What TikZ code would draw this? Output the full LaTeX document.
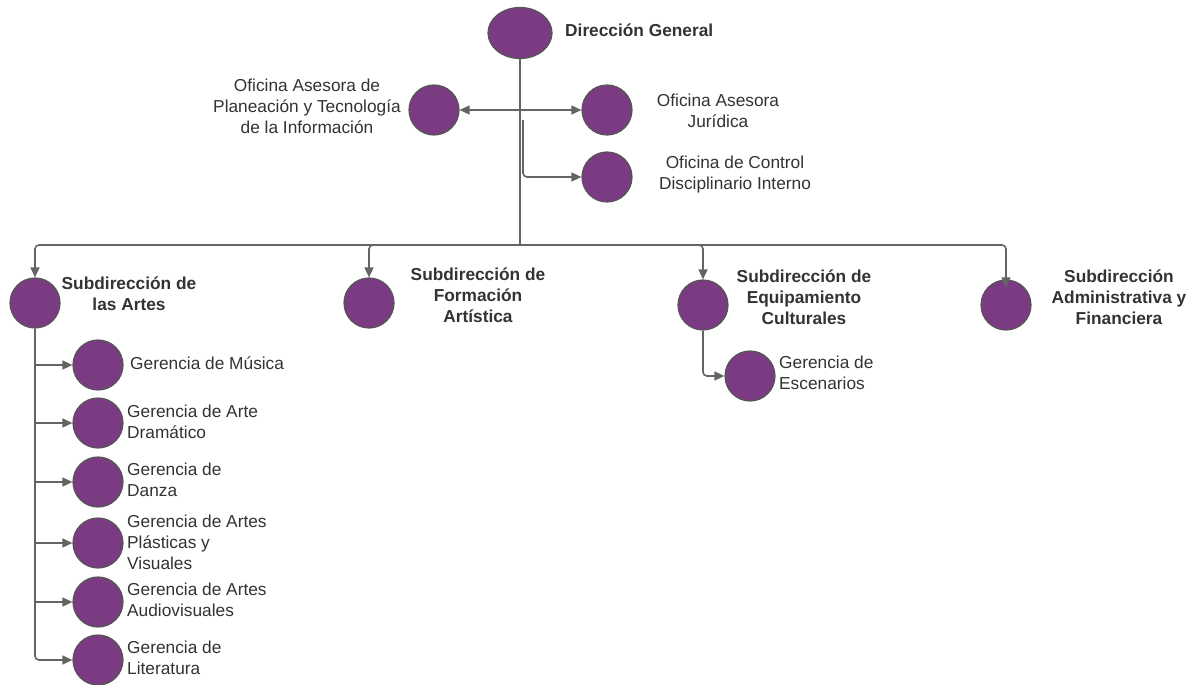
\documentclass[tikz,border=0pt]{standalone}
\usepackage{fontspec}
\setmainfont{Liberation Sans}
\usetikzlibrary{shapes.geometric,arrows.meta}
\definecolor{purp}{HTML}{7B3B83}
\definecolor{ring}{HTML}{555555}
\definecolor{wire}{HTML}{646464}
\definecolor{txt}{HTML}{333333}
\tikzset{
  unit/.style={circle,fill=purp,draw=ring,line width=1.2pt,minimum size=50pt,inner sep=0pt},
  top/.style={ellipse,fill=purp,draw=ring,line width=1.2pt,minimum width=64pt,minimum height=51pt,inner sep=0pt},
  lbl/.style={text=txt,font=\fontsize{17.3}{21}\selectfont,align=center,inner sep=0pt},
  lblb/.style={lbl,font=\fontsize{17.3}{21}\selectfont\bfseries},
  lbll/.style={lbl,align=left,anchor=west},
  conn/.style={draw=wire,line width=1.6pt,rounded corners=4pt},
  arr/.style={conn,-{Triangle[length=10pt,width=9pt]}},
}
\begin{document}
\begin{tikzpicture}[x=1pt,y=-1pt]
\useasboundingbox[fill=white] (0,0) rectangle (1200,685);
% nodes
\node[top] (dg) at (520,33) {};
\node[lblb,anchor=west] (dgt) at (565,30) {Dirección General};
\node[unit] (plan) at (434,110) {};
\node[lbl] (plant) at (307,106) {Oficina Asesora de\\Planeación y Tecnología\\de la Información};
\node[unit] (jur) at (607,110) {};
\node[lbl] (jurt) at (718,111) {Oficina Asesora\\Jurídica};
\node[unit] (ctrl) at (607,177) {};
\node[lbl] (ctrlt) at (735,175) {Oficina de Control\\Disciplinario Interno};
\node[unit] (artes) at (35,303) {};
\node[lblb] (artest) at (129,294) {Subdirección de\\las Artes};
\node[unit] (form) at (369,303) {};
\node[lblb] (formt) at (478,295) {Subdirección de\\Formación\\Artística};
\node[unit] (equip) at (703,305) {};
\node[lblb] (equipt) at (804,297) {Subdirección de\\Equipamiento\\Culturales};
\node[unit] (adm) at (1006,305) {};
\node[lblb] (admt) at (1119,297) {Subdirección\\Administrativa y\\Financiera};
\node[unit] (esc) at (750,376) {};
\node[lbll] (esct) at (779,373) {Gerencia de\\Escenarios};
\node[unit] (mus) at (98,365) {};
\node[lbll] (must) at (130,363) {Gerencia de Música};
\node[unit] (dra) at (98,423) {};
\node[lbll] (drat) at (127,422) {Gerencia de Arte\\Dramático};
\node[unit] (dan) at (98,482) {};
\node[lbll] (dant) at (127,480) {Gerencia de\\Danza};
\node[unit] (pla) at (98,543) {};
\node[lbll] (plat) at (127,542) {Gerencia de Artes\\Plásticas y\\Visuales};
\node[unit] (aud) at (98,602) {};
\node[lbll] (audt) at (127,600) {Gerencia de Artes\\Audiovisuales};
\node[unit] (lit) at (98,660) {};
\node[lbll] (litt) at (127,658) {Gerencia de\\Literatura};
% connectors
\coordinate (hub) at (520,245);
\coordinate (j1) at (520,110);
\coordinate (c1) at (523,120);
\draw[conn] (dg.south) -- (hub);
\draw[arr] (j1) -- (plan.east);
\draw[arr] (j1) -- (jur.west);
\draw[arr] (c1) |- (ctrl.west);
\draw[arr] (hub) -| (artes.north);
\draw[arr] (hub) -| (form.north);
\draw[arr] (hub) -| (equip.north);
\draw[arr] (hub) -| ([yshift=-8pt]adm.north);
\draw[arr] (equip.south) |- (esc.west);
\draw[arr] (artes.south) |- (lit.west);
\draw[arr] (artes.south |- mus.west) -- (mus.west);
\draw[arr] (artes.south |- dra.west) -- (dra.west);
\draw[arr] (artes.south |- dan.west) -- (dan.west);
\draw[arr] (artes.south |- pla.west) -- (pla.west);
\draw[arr] (artes.south |- aud.west) -- (aud.west);
\end{tikzpicture}
\end{document}
